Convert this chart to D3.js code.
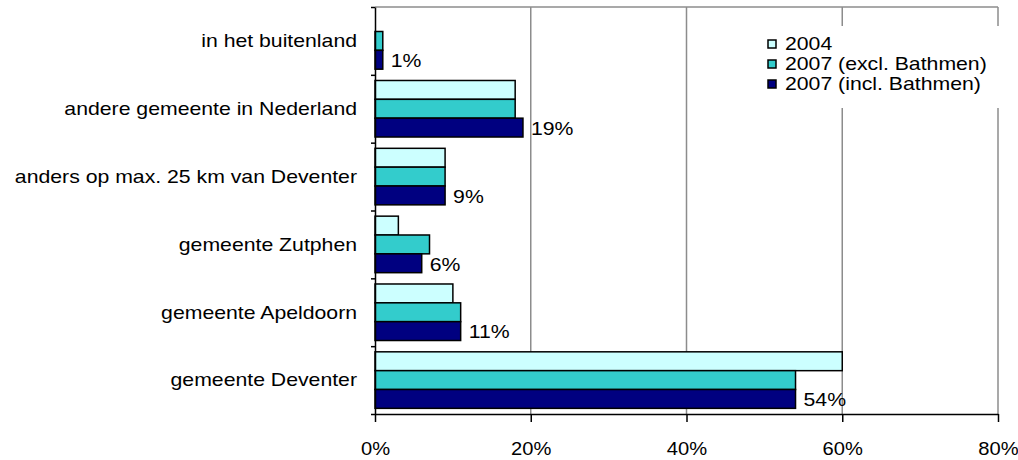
<!DOCTYPE html>
<html>
<head>
<meta charset="utf-8">
<script src="https://cdn.jsdelivr.net/npm/d3@7"></script>
<style>
    body { margin: 0; background: #fff; }
    text { font-family: "Liberation Sans", Arial, sans-serif; fill: #000; }
</style>
</head>
<body>
<div id="chart"></div>
<script>
var categories = [
    "in het buitenland",
    "andere gemeente in Nederland",
    "anders op max. 25 km van Deventer",
    "gemeente Zutphen",
    "gemeente Apeldoorn",
    "gemeente Deventer"
];
var seriesNames = ["2004", "2007 (excl. Bathmen)", "2007 (incl. Bathmen)"];
var values2004 = [0, 18, 9, 3, 10, 60];
var valuesExcl = [1, 18, 9, 7, 11, 54];
var valuesIncl = [1, 19, 9, 6, 11, 54];
var xTicks = [0, 20, 40, 60, 80];
var palette = ["#ccffff", "#33cccc", "#000080"];

var width = 1018, height = 460;
var stretch = "scale(1.18,1)";   // text in the original is drawn a bit wide

var x = d3.scaleLinear().domain([0, 80]).range([375, 998]);
var y = d3.scaleBand().domain(categories).range([7, 414]);
// gap of 60% of a bar width split over both ends of the category
var barH = y.bandwidth() / 3.6;
var color = d3.scaleOrdinal().domain(seriesNames).range(palette);

var rows = [];
categories.forEach(function (c, i) {
    [values2004, valuesExcl, valuesIncl].forEach(function (arr, j) {
        rows.push({ cat: c, series: seriesNames[j], idx: j, value: arr[i] });
    });
});

var svg = d3.select("#chart").append("svg")
    .attr("width", width)
    .attr("height", height);

// gridlines
svg.append("g")
    .selectAll("line")
    .data(xTicks.slice(1))
    .enter().append("line")
        .attr("x1", d => x(d)).attr("x2", d => x(d))
        .attr("y1", 7).attr("y2", 414)
        .attr("stroke", "#8c8c8c")
        .attr("stroke-width", 1.5);

// top border of plot area
svg.append("line")
    .attr("x1", x(0)).attr("x2", x(80))
    .attr("y1", 7).attr("y2", 7)
    .attr("stroke", "#8c8c8c")
    .attr("stroke-width", 1.5);

// bars
svg.append("g")
    .selectAll("rect")
    .data(rows.filter(d => d.value > 0))
    .enter().append("rect")
        .attr("x", x(0))
        .attr("y", d => y(d.cat) + barH * 0.3 + d.idx * barH)
        .attr("width", d => x(d.value) - x(0))
        .attr("height", barH)
        .attr("fill", d => color(d.series))
        .attr("stroke", "#000")
        .attr("stroke-width", 1.5);

// value labels next to the incl. Bathmen bar
svg.append("g")
    .selectAll("g")
    .data(categories)
    .enter().append("g")
        .attr("transform", (d, i) => "translate(" + (x(valuesIncl[i]) + 8) + "," +
            (y(d) + barH * 0.3 + 2.5 * barH + 1) + ")")
    .append("text")
        .attr("transform", stretch)
        .attr("dy", "0.35em")
        .style("font-size", "18px")
        .text((d, i) => valuesIncl[i] + "%");

// y axis with ticks on category boundaries
var yEdge = d3.scaleLinear().domain([0, categories.length]).range([414, 7]);
var yAxis = svg.append("g")
    .attr("transform", "translate(" + x(0) + ",0)")
    .call(d3.axisLeft(yEdge).tickValues(d3.range(categories.length + 1))
        .tickSize(4).tickSizeOuter(0).tickFormat(""));
yAxis.select(".domain").attr("stroke", "#000").attr("stroke-width", 1.5);
yAxis.selectAll(".tick line").attr("stroke-width", 1.5);

// category labels
svg.append("g")
    .selectAll("g")
    .data(categories)
    .enter().append("g")
        .attr("transform", d => "translate(357," + (y(d) + y.bandwidth() / 2) + ")")
    .append("text")
        .attr("transform", stretch)
        .attr("text-anchor", "end")
        .attr("dy", "0.35em")
        .style("font-size", "18px")
        .text(d => d);

// x axis
var xAxis = svg.append("g")
    .attr("transform", "translate(0,414)")
    .call(d3.axisBottom(x).tickValues(xTicks).tickSize(8).tickSizeOuter(0)
        .tickFormat(d => d + "%"));
xAxis.select(".domain").attr("stroke", "#000").attr("stroke-width", 1.5);
xAxis.selectAll(".tick line").attr("stroke-width", 1.5);
xAxis.selectAll(".tick text")
    .attr("transform", "scale(1.12,1)")
    .attr("y", 41)
    .attr("dy", "0")
    .style("font-family", "'Liberation Sans', Arial, sans-serif")
    .style("font-size", "18px");

// legend
var legend = svg.append("g");
legend.append("rect")
    .attr("x", 752).attr("y", 26)
    .attr("width", 256).attr("height", 82)
    .attr("fill", "#fff");

var item = legend.selectAll(".item")
    .data(seriesNames)
    .enter().append("g")
        .attr("class", "item")
        .attr("transform", (d, i) => "translate(768," + (44 + i * 20) + ")");

item.append("rect")
    .attr("x", 0).attr("y", -4)
    .attr("width", 8).attr("height", 8)
    .attr("fill", d => color(d))
    .attr("stroke", "#000")
    .attr("stroke-width", 1.5);

item.append("g")
    .attr("transform", "translate(17,0)")
    .append("text")
        .attr("transform", stretch)
        .attr("dy", "0.35em")
        .style("font-size", "18px")
        .text(d => d);
</script>
</body>
</html>
